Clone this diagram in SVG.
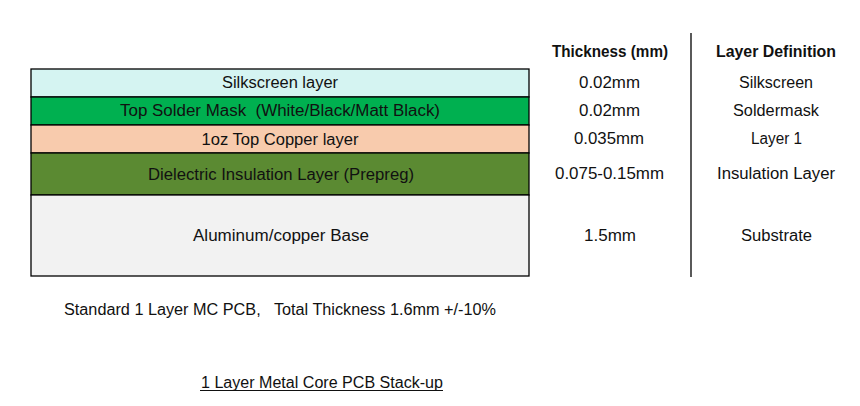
<svg xmlns="http://www.w3.org/2000/svg" width="860" height="406" viewBox="0 0 860 406">
<style>
text{font-family:"Liberation Sans",Arial,sans-serif;font-size:16px;fill:#111;text-anchor:middle}
.h{font-weight:bold}
.layer{stroke:#000;stroke-width:1.3}
</style>
<rect width="860" height="406" fill="#fff"/>
<g id="stack">
<g id="silkscreen"><rect class="layer" x="31" y="69" width="498" height="28" fill="#d5f4f2"/><text x="280" y="88" textLength="116" lengthAdjust="spacingAndGlyphs">Silkscreen layer</text></g>
<g id="soldermask"><rect class="layer" x="31" y="97" width="498" height="28" fill="#00b050"/><text x="280" y="116" textLength="320" lengthAdjust="spacingAndGlyphs" xml:space="preserve">Top Solder Mask  (White/Black/Matt Black)</text></g>
<g id="copper"><rect class="layer" x="31" y="125" width="498" height="28" fill="#f8cbad"/><text x="280" y="145" textLength="157" lengthAdjust="spacingAndGlyphs">1oz Top Copper layer</text></g>
<g id="dielectric"><rect class="layer" x="31" y="153" width="498" height="42" fill="#5b8a32"/><text x="281" y="180" textLength="266" lengthAdjust="spacingAndGlyphs">Dielectric Insulation Layer (Prepreg)</text></g>
<g id="base"><rect class="layer" x="31" y="195" width="498" height="81" fill="#f2f2f2"/><text x="281" y="241" textLength="176" lengthAdjust="spacingAndGlyphs">Aluminum/copper Base</text></g>
</g>
<g id="connectors"><line x1="691" y1="33" x2="691" y2="277" stroke="#000" stroke-width="1.3"/></g>
<g id="thickness">
<text class="h" x="610" y="57" textLength="116" lengthAdjust="spacingAndGlyphs">Thickness (mm)</text>
<text x="609.5" y="88" textLength="61" lengthAdjust="spacingAndGlyphs">0.02mm</text>
<text x="609.5" y="116" textLength="61" lengthAdjust="spacingAndGlyphs">0.02mm</text>
<text x="609" y="144" textLength="70" lengthAdjust="spacingAndGlyphs">0.035mm</text>
<text x="609.5" y="179" textLength="109" lengthAdjust="spacingAndGlyphs">0.075-0.15mm</text>
<text x="610" y="241" textLength="52" lengthAdjust="spacingAndGlyphs">1.5mm</text>
</g>
<g id="definition">
<text class="h" x="776" y="57" textLength="120" lengthAdjust="spacingAndGlyphs">Layer Definition</text>
<text x="776" y="88" textLength="74" lengthAdjust="spacingAndGlyphs">Silkscreen</text>
<text x="776" y="116" textLength="86" lengthAdjust="spacingAndGlyphs">Soldermask</text>
<text x="776.5" y="144" textLength="51" lengthAdjust="spacingAndGlyphs">Layer 1</text>
<text x="776" y="179" textLength="118" lengthAdjust="spacingAndGlyphs">Insulation Layer</text>
<text x="776.5" y="241" textLength="71" lengthAdjust="spacingAndGlyphs">Substrate</text>
</g>
<g id="notes">
<text x="280" y="315" textLength="432" lengthAdjust="spacingAndGlyphs" xml:space="preserve">Standard 1 Layer MC PCB,   Total Thickness 1.6mm +/-10%</text>
<text x="322" y="388" textLength="242" lengthAdjust="spacingAndGlyphs">1 Layer Metal Core PCB Stack-up</text>
<line x1="200" y1="390.5" x2="443" y2="390.5" stroke="#111" stroke-width="1"/>
</g>
</svg>
